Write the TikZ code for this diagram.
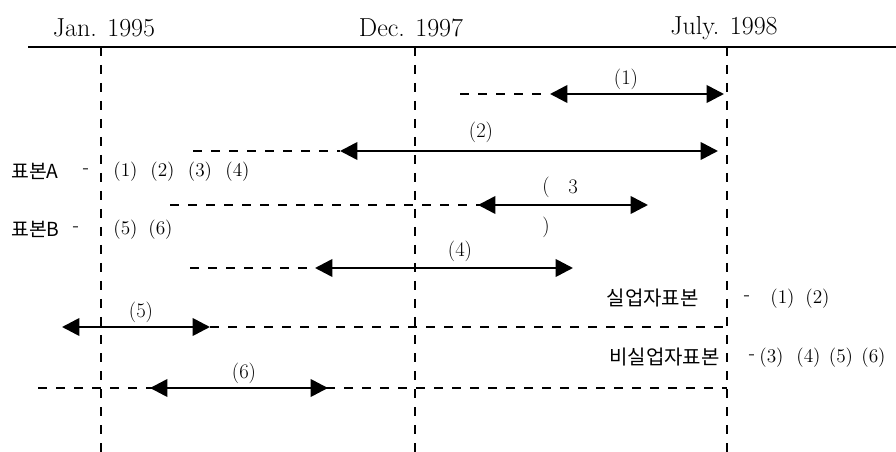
\documentclass[tikz,border=0pt]{standalone}
\usepackage{fontspec}
\newfontfamily\kr{Noto Sans CJK KR}
\usetikzlibrary{arrows.meta}
\tikzset{
  dsh/.style={line width=1.8pt, dash pattern=on 6.5pt off 7pt},
  arr/.style={line width=2pt, {Triangle[length=13pt,width=13pt]}-{Triangle[length=13pt,width=13pt]}},
  datelbl/.style={inner sep=0pt, font=\fontsize{19.5}{22}\selectfont},
  numlbl/.style={inner sep=0pt, font=\fontsize{15.5}{18}\selectfont},
  seqlbl/.style={inner sep=0pt, font=\fontsize{14.5}{17}\selectfont},
  krlbl/.style={inner sep=0pt, font=\kr\fontsize{14.5}{16}\selectfont},
}
\begin{document}
\begin{tikzpicture}[x=0.75pt,y=-0.75pt]
\useasboundingbox (0,0) rectangle (896,452);
% axis
\coordinate (axL) at (28,47);
\coordinate (axR) at (896,47);
\draw[line width=1.1pt] (axL) -- (axR);
\node[datelbl] (d1) at (104,28) {Jan. 1995};
\node[datelbl] (d2) at (411,28) {Dec. 1997};
\node[datelbl] (d3) at (724,28) {July. 1998};
% vertical dashed lines
\coordinate (v1t) at (101,47); \coordinate (v1b) at (101,452);
\coordinate (v2t) at (415,47); \coordinate (v2b) at (415,452);
\coordinate (v3t) at (727,47); \coordinate (v3b) at (727,452);
\draw[dsh] (v1t) -- (v1b);
\draw[dsh] (v2t) -- (v2b);
\draw[dsh] (v3t) -- (v3b);
% row 1
\coordinate (r1d) at (460,94); \coordinate (r1a) at (550,94); \coordinate (r1b) at (724,94);
\draw[dsh] (r1d) -- (r1a);
\draw[arr] (r1a) -- (r1b);
\node[numlbl] (n1) at (626,79) {(1)};
% row 2
\coordinate (r2d) at (193,151); \coordinate (r2a) at (340,151); \coordinate (r2b) at (718,151);
\draw[dsh] (r2d) -- (r2a);
\draw[arr] (r2a) -- (r2b);
\node[numlbl] (n2) at (481,132) {(2)};
% row 3
\coordinate (r3d) at (170,205); \coordinate (r3e) at (533,205);
\coordinate (r3a) at (478,205); \coordinate (r3b) at (648,205);
\draw[arr] (r3a) -- (r3b);
\draw[dsh] (r3d) -- (r3e);
\node[numlbl] (n3a) at (546,187) {(};
\node[numlbl] (n3b) at (573,187) {3};
\node[numlbl] (n3c) at (546,227) {)};
% row 4
\coordinate (r4d) at (190,268); \coordinate (r4a) at (315,268); \coordinate (r4b) at (573,268);
\draw[dsh] (r4d) -- (r4a);
\draw[arr] (r4a) -- (r4b);
\node[numlbl] (n4) at (460,251) {(4)};
% row 5
\coordinate (r5a) at (62,327); \coordinate (r5b) at (210,327); \coordinate (r5e) at (727,327);
\draw[arr] (r5a) -- (r5b);
\draw[dsh] (r5b) -- (r5e);
\node[numlbl] (n5) at (141,312) {(5)};
% row 6
\coordinate (r6d) at (38,388); \coordinate (r6e) at (727,388);
\coordinate (r6a) at (150,388); \coordinate (r6b) at (328,388);
\draw[arr] (r6a) -- (r6b);
\draw[dsh] (r6d) -- (r6e);
\node[numlbl] (n6) at (244,373) {(6)};
% left legend
\node[krlbl, anchor=west] (sa) at (11,171) {표본A};
\node[seqlbl] (sad) at (86,171) {-};
\node[seqlbl] (sa1) at (125.5,172) {(1)};
\node[seqlbl] (sa2) at (162.5,172) {(2)};
\node[seqlbl] (sa3) at (200,172) {(3)};
\node[seqlbl] (sa4) at (237.5,172) {(4)};
\node[krlbl, anchor=west] (sb) at (11,229) {표본B};
\node[seqlbl] (sbd) at (76,229) {-};
\node[seqlbl] (sb5) at (125.5,230) {(5)};
\node[seqlbl] (sb6) at (160.5,230) {(6)};
% right legend
\node[krlbl, anchor=east, font=\kr\fontsize{15}{16}\selectfont] (ua) at (699,298) {실업자표본};
\node[seqlbl] (uad) at (747,298) {-};
\node[seqlbl] (ua1) at (782.5,299) {(1)};
\node[seqlbl] (ua2) at (817.5,299) {(2)};
\node[krlbl, anchor=east, font=\kr\fontsize{15}{16}\selectfont] (ub) at (720,357) {비실업자표본};
\node[seqlbl] (ubd) at (752,357) {-};
\node[seqlbl] (ub3) at (771.5,358) {(3)};
\node[seqlbl] (ub4) at (808.5,358) {(4)};
\node[seqlbl] (ub5) at (841,358) {(5)};
\node[seqlbl] (ub6) at (873.5,358) {(6)};
\end{tikzpicture}
\end{document}
